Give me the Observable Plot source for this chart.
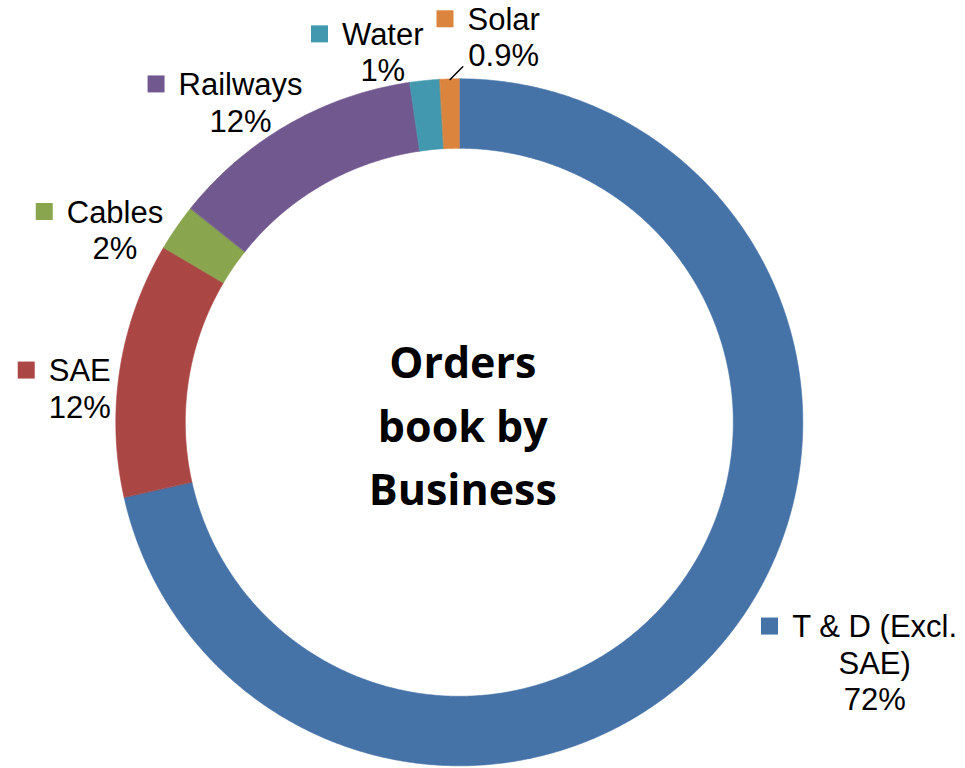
<!DOCTYPE html>
<html><head><meta charset="utf-8">
<script src="https://cdn.jsdelivr.net/npm/d3@7"></script>
<script src="https://cdn.jsdelivr.net/npm/@observablehq/plot@0.6"></script>
<style>html,body{margin:0;padding:0;background:#fff} svg{display:block}</style>
</head><body><div id="chart"></div>
<script>
// ---- data ----
const categories = ["T & D (Excl. SAE)", "SAE", "Cables", "Railways", "Water", "Solar"];
const shares = [71.5, 12.0, 2.2, 12.0, 1.4, 0.9];
const shareLabels = ["72%", "12%", "2%", "12%", "1%", "0.9%"];
const colors = ["#4572A7", "#AA4643", "#89A54E", "#71588F", "#4198AF", "#DB843D"];
const centerTitle = ["Orders", "book by", "Business"];

// ---- layout ----
const W = 965, H = 768, cx = 459.3, cy = 422.3, R = 343.5, R0 = 274;
const labelAngle = [116.1, 277.9, 301.5, 327.1, 348.8, 6.2];   // degrees clockwise from 12 o'clock
const labelDist  = [462, 383.7, 404.4, 403.6, 396.5, 406.4];
const labelWrap  = {"T & D (Excl. SAE)": ["T & D (Excl.", "SAE)"]};
const leader     = [null, null, null, null, null, {dA: 2.1, dR: 12.5}];
const fs = 31, lineGap = 36.5, keySide = 17, keyGap = 14;
const titleFs = 43, titleGap = 63.5, titleDx = 3, titleDy = 4;
const font = "'Liberation Sans', Arial, sans-serif";

// ---- geometry from data ----
const total = d3.sum(shares);
const rad = a => a * Math.PI / 180;
const px = (a, r) => r * Math.sin(rad(a));
const py = (a, r) => -r * Math.cos(rad(a));
let acc = 0;
const slices = categories.map((name, i) => {
  const a0 = acc / total * 360; acc += shares[i]; const a1 = acc / total * 360;
  return {name, a0, a1, mid: (a0 + a1) / 2, i};
});
const arcPts = [];
for (const s of slices) {
  const n = Math.max(8, Math.ceil((s.a1 - s.a0) / 0.4));
  for (let k = 0; k <= n; k++) {
    const a = s.a0 + (s.a1 - s.a0) * k / n;
    arcPts.push({name: s.name, x1: px(a, R), y1: py(a, R), x2: px(a, R0), y2: py(a, R0)});
  }
}
const ctx = document.createElement("canvas").getContext("2d");
ctx.font = `${fs}px ${font}`;
const labelLines = [], keys = [], leaders = [];
slices.forEach((s, i) => {
  const lx = px(labelAngle[i], labelDist[i]);
  const ly = py(labelAngle[i], labelDist[i]);
  const lines = (labelWrap[s.name] || [s.name]).concat([shareLabels[i]]);
  lines.forEach((t, k) => labelLines.push({t, x: lx, y: ly + k * lineGap + 1.2}));
  const w1 = ctx.measureText(lines[0]).width;
  keys.push({name: s.name, x: lx - w1 / 2 - keyGap - keySide / 2, y: ly});
  if (leader[i]) {
    leaders.push({id: i, x: px(s.mid, R), y: py(s.mid, R)});
    leaders.push({id: i, x: px(s.mid + leader[i].dA, R + leader[i].dR), y: py(s.mid + leader[i].dA, R + leader[i].dR)});
  }
});
const titleLines = centerTitle.map((t, k) => ({t, x: titleDx, y: titleDy + (k - (centerTitle.length - 1) / 2) * titleGap + 1.2}));

const chart = Plot.plot({
  width: W, height: H, margin: 0,
  x: {domain: [-cx, W - cx], range: [0, W]},
  y: {domain: [-cy, H - cy], range: [0, H]},
  axis: null,
  color: {domain: categories, range: colors},
  style: {background: "white"},
  marks: [
    Plot.area(arcPts, {x1: "x1", y1: "y1", x2: "x2", y2: "y2", z: "name", fill: "name", stroke: "name", strokeWidth: 0.6, curve: "linear"}),
    Plot.line(leaders, {x: "x", y: "y", z: "id", stroke: "black", strokeWidth: 1.5}),
    Plot.dot(keys, {x: "x", y: "y", symbol: "square", r: keySide / Math.sqrt(Math.PI), fill: "name", stroke: null}),
    Plot.text(labelLines, {x: "x", y: "y", text: "t", fontSize: fs, fontFamily: font, fill: "black", textAnchor: "middle", lineAnchor: "middle"}),
    Plot.text(titleLines, {x: "x", y: "y", text: "t", fontSize: titleFs, fontFamily: "'Open Sans', sans-serif", fontWeight: "bold", fill: "black", textAnchor: "middle", lineAnchor: "middle"})
  ]
});
document.getElementById("chart").appendChild(chart);
</script>
</body></html>
